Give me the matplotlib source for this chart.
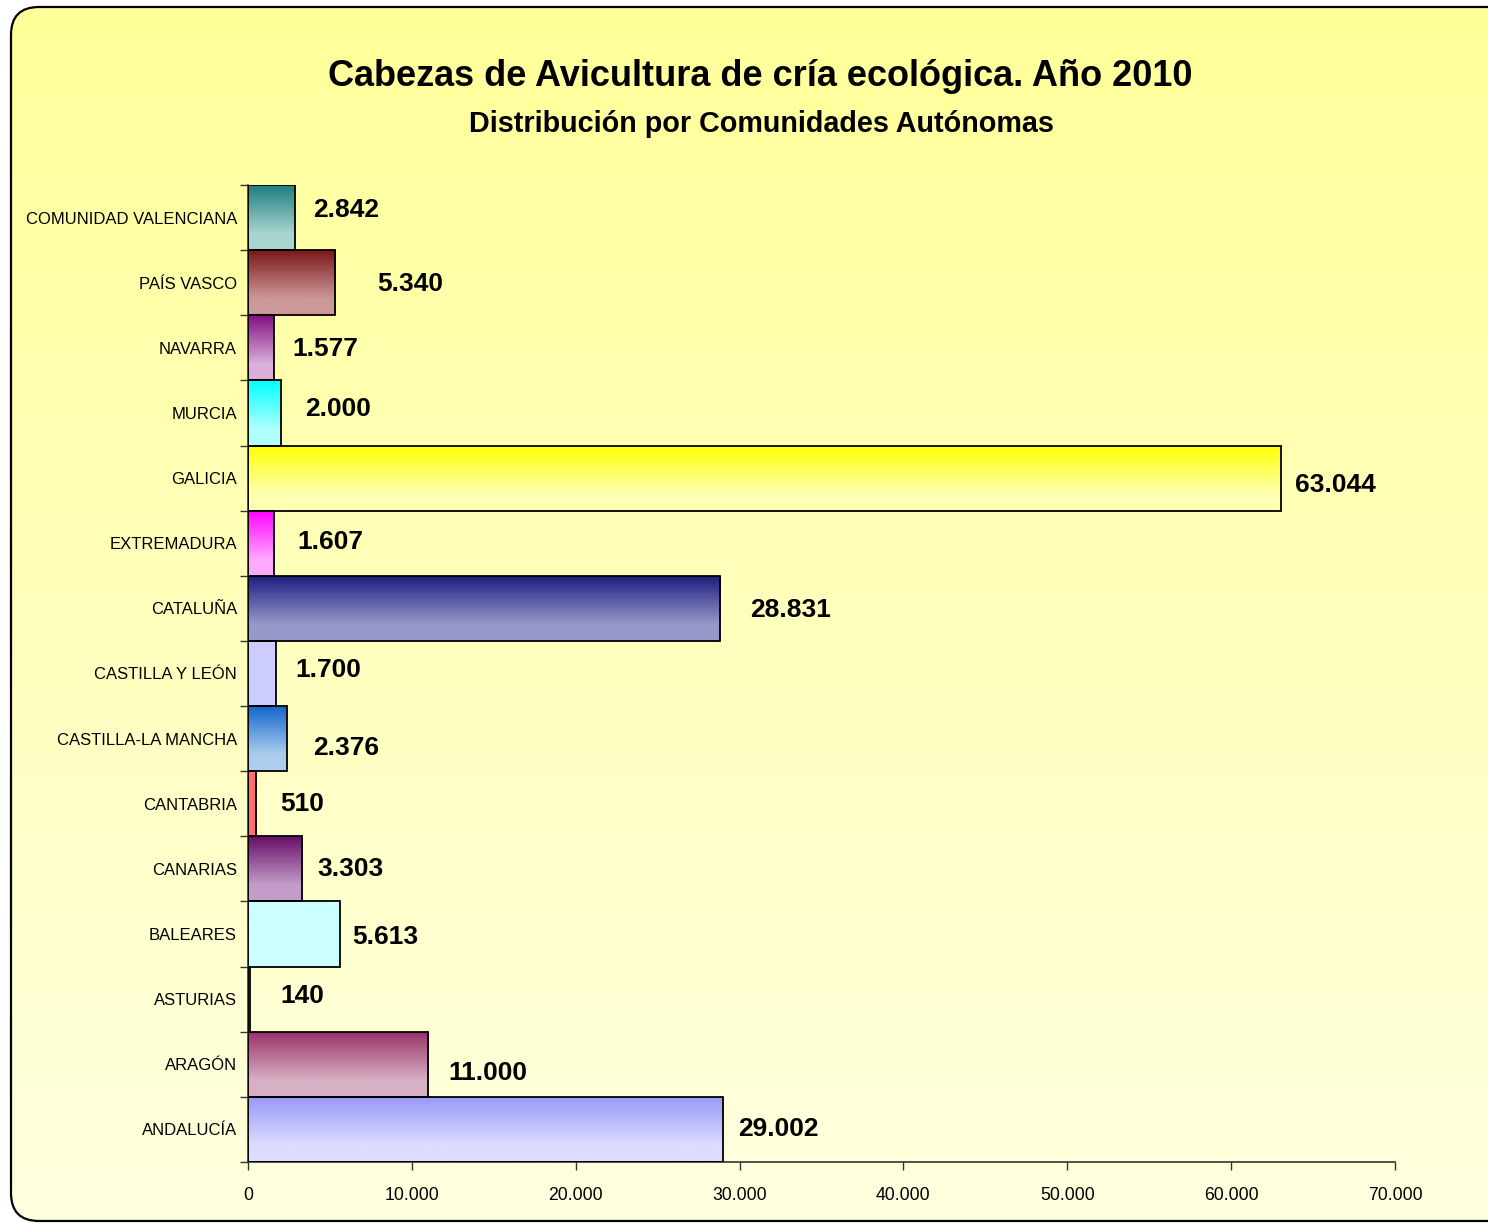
import matplotlib
matplotlib.use("Agg")
import matplotlib.pyplot as plt
import numpy as np
from matplotlib import font_manager
from matplotlib.patches import FancyBboxPatch
from matplotlib.colors import to_rgb
from matplotlib.ticker import FuncFormatter, FixedLocator

# ---------------- data ----------------
regions = ["COMUNIDAD VALENCIANA", "PAÍS VASCO", "NAVARRA", "MURCIA", "GALICIA",
           "EXTREMADURA", "CATALUÑA", "CASTILLA Y LEÓN", "CASTILLA-LA MANCHA",
           "CANTABRIA", "CANARIAS", "BALEARES", "ASTURIAS", "ARAGÓN", "ANDALUCÍA"]
heads = [2842, 5340, 1577, 2000, 63044, 1607, 28831, 1700, 2376,
         510, 3303, 5613, 140, 11000, 29002]
x_ticks = [0, 10000, 20000, 30000, 40000, 50000, 60000, 70000]

title = "Cabezas de Avicultura de cría ecológica. Año 2010"
subtitle = "Distribución por Comunidades Autónomas"

# ---------------- styles ----------------
top_colors = ["#1b7b7b", "#7a1414", "#820a82", "#00ffff", "#ffff00", "#ff00ff",
              "#1c1c7e", "#ccccff", "#1064cc", "#ff7070", "#650a65", "#ccffff",
              "#e8e0a0", "#983068", "#9898fa"]
bot_colors = ["#a9d5d1", "#cc9898", "#d9b0d9", "#b0ffff", "#ffffb4", "#ffa8ff",
              "#9898cb", "#ccccff", "#abcdee", "#ff7070", "#c39cc8", "#ccffff",
              "#e8e0a0", "#d8b0c4", "#dcdcff"]
# label offsets in pixels (dx from bar end, dy from bar centre; +dy = down)
lab_dx = [19, 42, 19, 24, 14, 23, 30, 20, 26, 24, 15, 12, 30, 20, 15]
lab_dy = [-8, 1, 1, -4, 7, -1, 2, -3, 9, 0, 0, 3, -3, 9, 0]

avail = {f.name for f in font_manager.fontManager.ttflist}
narrow = "Liberation Sans Narrow" if "Liberation Sans Narrow" in avail else "Liberation Sans"
fam = [narrow, "DejaVu Sans"]

W, H = 1488, 1223
fig = plt.figure(figsize=(W / 100, H / 100), dpi=100)
fig.patch.set_facecolor("white")

# background with rounded border
bg = fig.add_axes([0, 0, 1, 1])
bg.set_xlim(0, W)
bg.set_ylim(H, 0)
bg.axis("off")
grad = np.linspace(0, 1, 256)[:, None, None]
c1 = np.array(to_rgb("#ffff99"))
c2 = np.array(to_rgb("#ffffe0"))
img = c1 * (1 - grad) + c2 * grad
im = bg.imshow(img, extent=(0, W, H, 0), aspect="auto", origin="upper", zorder=0)
frame = FancyBboxPatch((11, 7), 1600, 1214, boxstyle="round,pad=0,rounding_size=28",
                       facecolor="none", edgecolor="black", linewidth=1.6, zorder=2)
bg.add_patch(frame)
im.set_clip_path(frame)

# main axes
L, R, T, B = 248, 1395, 185, 1162
ax = fig.add_axes([L / W, 1 - B / H, (R - L) / W, (B - T) / H])
ax.patch.set_alpha(0)

n = len(regions)
ypos = np.arange(n)
bars = ax.barh(ypos, heads, height=1.0, facecolor="none", edgecolor="black",
               linewidth=1.3, zorder=3)
for i, (b, v) in enumerate(zip(bars, heads)):
    ct = np.array(to_rgb(top_colors[i]))
    cb = np.array(to_rgb(bot_colors[i]))
    t = np.clip(np.linspace(0, 1, 128) / 0.75, 0, 1)[:, None, None]
    g = ct * (1 - t) + cb * t
    gi = ax.imshow(g, extent=(0, v, i + 0.5, i - 0.5), origin="upper",
                   aspect="auto", zorder=2, interpolation="bilinear")
    gi.set_clip_path(b)
    ax.annotate(f"{v:,}".replace(",", "."), xy=(v, i),
                xytext=(lab_dx[i] * 0.72, -lab_dy[i] * 0.72),
                textcoords="offset points", ha="left", va="center",
                fontsize=19, fontweight="bold", family=fam, color="black", zorder=5)

ax.set_xlim(0, 70000)
ax.set_ylim(n - 0.5, -0.5)
ax.set_xticks(x_ticks)
ax.xaxis.set_major_formatter(FuncFormatter(lambda x, p: f"{int(x):,}".replace(",", ".")))
ax.yaxis.set_major_locator(FixedLocator(np.arange(n + 1) - 0.5))
ax.yaxis.set_major_formatter(FuncFormatter(lambda x, p: ""))
ax.yaxis.set_minor_locator(FixedLocator(ypos))
ax.set_yticklabels(regions, minor=True)
ax.tick_params(axis="y", which="major", length=6, width=1, color="#333333", direction="out")
ax.tick_params(axis="y", which="minor", length=0, pad=8, labelsize=12)
ax.tick_params(axis="x", which="major", length=6, width=1, color="#333333", direction="out",
               labelsize=12.7, pad=12)
for lab in ax.get_yticklabels(minor=True) + ax.get_xticklabels():
    lab.set_family(fam)
for s in ["top", "right"]:
    ax.spines[s].set_visible(False)
for s in ["left", "bottom"]:
    ax.spines[s].set_color("#333333")
    ax.spines[s].set_linewidth(1.2)

fig.text(760 / W, 1 - 76 / H, title, ha="center", va="center", fontsize=26,
         fontweight="bold", family=fam)
fig.text(761 / W, 1 - 124 / H, subtitle, ha="center", va="center", fontsize=20.7,
         fontweight="bold", family=fam)

fig.savefig("out.png", dpi=100)
